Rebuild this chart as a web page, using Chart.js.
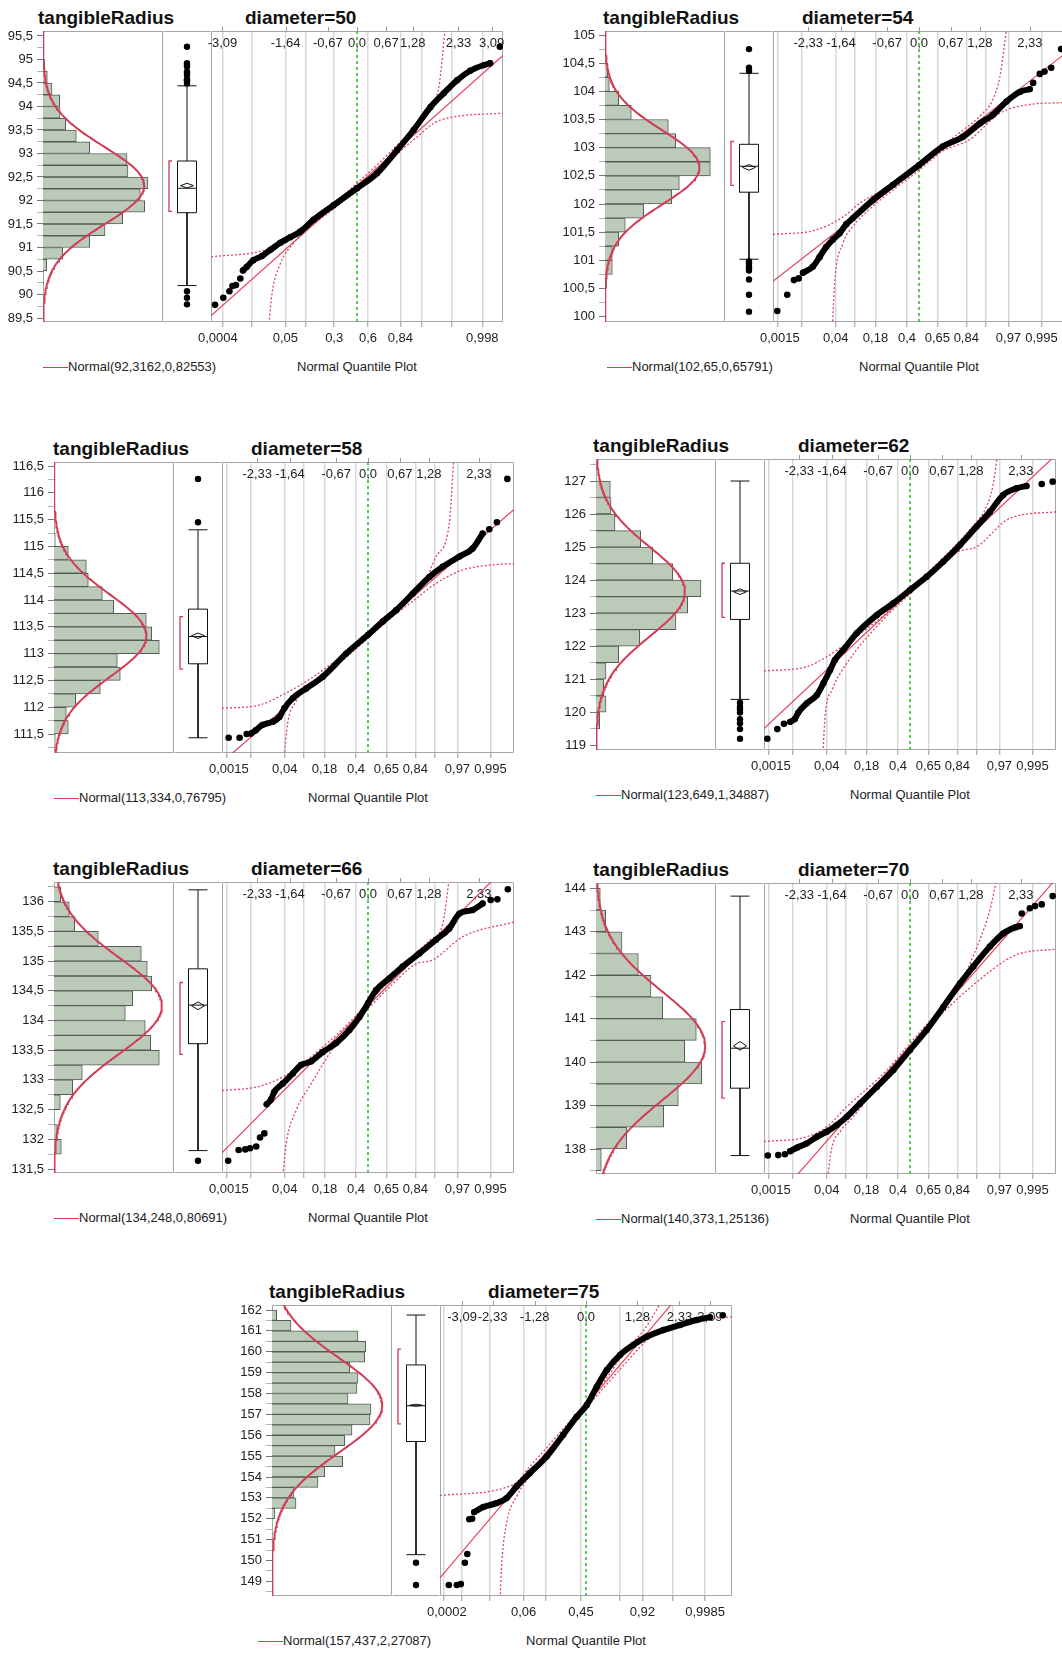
<!DOCTYPE html>
<html>
<head>
<meta charset="utf-8">
<script src="https://cdn.jsdelivr.net/npm/chart.js@4.4.1/dist/chart.umd.min.js"></script>
<style>
  html, body { margin: 0; padding: 0; background: #fff; overflow: hidden; width: 1062px; height: 1654px; }
  body { position: relative; font-family: "Liberation Sans", Arial, Helvetica, sans-serif; color: #111; }
  canvas { position: absolute; }
  .t { position: absolute; font-weight: bold; font-size: 19px; line-height: 20px; white-space: nowrap; }
  .lg { position: absolute; font-size: 13px; line-height: 16px; white-space: nowrap; color: #222; }
  .lg i { display: inline-block; width: 25px; height: 1.5px; background: #d23a55; vertical-align: middle; }
</style>
</head>
<body>
<script>
// one panel per diameter: histogram + box plot + normal quantile plot
const diameters = [50, 54, 58, 62, 66, 70, 75];
const fitMean = [92.3162, 102.65, 113.334, 123.649, 134.248, 140.373, 157.437];
const fitSd = [0.82553, 0.65791, 0.76795, 1.34887, 0.80691, 1.25136, 2.27087];

// shared y range of each panel
const yMin = [89.415, 99.906, 111.146, 118.858, 131.433, 137.425, 148.3];
const yMax = [95.606, 105.071, 116.575, 127.666, 136.332, 144.122, 162.24];
const yMajor = [0.5, 0.5, 0.5, 1, 0.5, 1, 1];
const yMinor = [0.25, 0.25, 0.25, 0.5, 0.25, 0.5, 0.5];

// histogram: bins read top to bottom
const binWidth = [0.25, 0.25, 0.25, 0.5, 0.25, 0.5, 0.5];
const binTop = [95, 104.5, 115.25, 127, 136.25, 144, 162];
const histCounts = [
  [1.7, 4.3, 9, 16.7, 17, 22.7, 33.3, 46.7, 84, 85, 105, 97.3, 101.7, 79.7, 62, 46.7, 19.7, 3.7, 0.7],
  [2.7, 4.3, 13.7, 26.3, 63.3, 70.7, 105.3, 105.3, 74.3, 66.7, 38.7, 20.3, 13.7, 7.3, 7.3, 1.7, 0.7, 0.7],
  [1.3, 14.3, 32.3, 34.3, 48.3, 59.7, 92.3, 97.7, 105.3, 63.3, 66.3, 46.3, 21.7, 12.3, 14.3, 1.3],
  [14.3, 15, 19, 44.7, 56.7, 76.7, 105, 91.7, 80, 43.7, 22.7, 10, 7.7, 10, 3.7],
  [6.7, 15.3, 20.7, 44.3, 87.3, 93.3, 97.7, 78.7, 71.3, 91.3, 96.7, 105.3, 28.3, 18.7, 6.3, 0, 3.3, 7.3],
  [4.3, 9.7, 26, 42.3, 55, 66.7, 100.3, 88.7, 105.7, 82.3, 67.7, 30.7, 5.3],
  [4.7, 19, 86, 93.7, 92.7, 77.7, 86, 85, 76, 99, 98, 80, 72.7, 63, 70.7, 52.7, 46, 22, 24, 3, 0, 0, 0, 0.7, 0.7, 0, 1]
];

// box plots
const boxQ1 = [91.74, 102.21, 112.81, 122.81, 133.61, 139.40, 155.70];
const boxMedian = [92.26, 102.67, 113.32, 123.67, 134.26, 140.32, 157.41];
const boxQ3 = [92.84, 103.06, 113.83, 124.51, 134.87, 141.21, 159.37];
const whiskerLo = [90.19, 101.02, 111.43, 120.39, 131.81, 137.85, 150.28];
const whiskerHi = [94.44, 104.32, 115.31, 127.0, 136.2, 143.82, 161.76];
const shortHalfLo = [91.77, 102.33, 112.71, 122.87, 133.43, 139.17, 156.55];
const shortHalfHi = [92.84, 103.11, 113.69, 124.51, 134.64, 140.93, 160.13];
const meanCI = [0.05, 0.05, 0.05, 0.085, 0.065, 0.1, 0.05];
const outliers = [
  [95.27, 94.92, 94.88, 94.85, 94.74, 94.71, 94.67, 94.58, 94.56, 94.55, 94.49, 90.07, 89.93, 89.79],
  [104.75, 104.42, 104.36, 100.98, 100.95, 100.89, 100.86, 100.82, 100.66, 100.39, 100.09],
  [116.26, 115.45],
  [120.29, 120.17, 120.09, 119.99, 119.79, 119.67, 119.49, 119.2],
  [131.64],
  [],
  [149.89, 148.83]
];

// normal quantile plots: [normal quantile, value]
const qqBody = [
  [[-2.62,90.51],[-2.53,90.59],[-2.38,90.73],[-2.18,90.82],[-1.99,90.95],[-1.76,91.1],[-1.53,91.22],[-1.30,91.34],[-1.0,91.59],[-0.54,91.9],[0,92.26],[0.46,92.58],[0.92,93.07],[1.30,93.5],[1.69,93.99],[1.99,94.28],[2.30,94.56],[2.60,94.76],[2.91,94.88],[3.06,94.92]],
  [[-2.44,100.78],[-2.23,100.89],[-2.09,101.06],[-1.95,101.24],[-1.81,101.37],[-1.67,101.48],[-1.53,101.64],[-1.39,101.75],[-0.97,102.07],[-0.55,102.34],[0,102.69],[0.50,103.02],[0.92,103.19],[1.28,103.43],[1.55,103.58],[1.84,103.82],[2.12,103.99],[2.33,104.04]],
  [[-2.46,111.51],[-2.36,111.57],[-2.22,111.67],[-2.0,111.73],[-1.86,111.82],[-1.76,111.98],[-1.58,112.17],[-1.30,112.35],[-0.95,112.57],[-0.46,113.0],[0,113.35],[0.31,113.6],[0.59,113.81],[0.94,114.12],[1.29,114.43],[1.57,114.62],[1.92,114.81],[2.20,114.96],[2.41,115.24]],
  [[-2.52,119.71],[-2.42,119.8],[-2.35,119.99],[-2.17,120.27],[-1.96,120.52],[-1.82,120.88],[-1.68,121.28],[-1.58,121.58],[-1.40,121.89],[-1.12,122.39],[-0.70,122.94],[-0.35,123.30],[0,123.70],[0.35,124.1],[0.70,124.56],[1.05,125.06],[1.40,125.62],[1.68,126.07],[1.96,126.58],[2.24,126.78],[2.45,126.85]],
  [[-2.13,132.59],[-2.04,132.67],[-1.97,132.8],[-1.79,132.94],[-1.58,133.11],[-1.41,133.25],[-1.20,133.31],[-0.95,133.47],[-0.67,133.62],[-0.39,133.84],[-0.18,134.06],[0,134.29],[0.17,134.51],[0.45,134.71],[0.73,134.91],[1.08,135.13],[1.43,135.36],[1.71,135.55],[1.92,135.8],[2.20,135.86],[2.41,135.97]],
  [[-2.52,137.95],[-2.38,138.03],[-2.17,138.13],[-1.96,138.28],[-1.75,138.4],[-1.54,138.55],[-1.33,138.74],[-1.05,139.05],[-0.70,139.43],[-0.35,139.82],[0,140.28],[0.35,140.74],[0.70,141.27],[1.05,141.81],[1.33,142.2],[1.68,142.66],[1.96,142.96],[2.21,143.1],[2.31,143.13]],
  [[-2.79,152.32],[-2.56,152.56],[-2.23,152.75],[-1.98,152.99],[-1.73,153.55],[-1.40,154.19],[-0.98,154.98],[-0.57,156.02],[-0.23,156.89],[0.02,157.45],[0.27,158.33],[0.52,159.13],[0.85,159.85],[1.18,160.33],[1.51,160.72],[1.93,161.04],[2.34,161.28],[2.76,161.52],[3.09,161.65]]
];
const qqTail = [
  [[-3.26,89.78],[-3.07,89.93],[-2.93,90.07],[-2.86,90.18],[-2.78,90.2],[-2.68,90.34],[3.28,95.27]],
  [[-2.98,100.10],[-2.77,100.39],[-2.63,100.65],[-2.53,100.68],[2.40,104.15],[2.54,104.31],[2.64,104.35],[2.78,104.42],[2.99,104.75]],
  [[-2.93,111.43],[-2.70,111.43],[-2.55,111.5],[2.55,115.32],[2.71,115.45],[2.93,116.26]],
  [[-3.0,119.2],[-2.79,119.49],[-2.65,119.65],[2.77,126.91],[3.0,126.98]],
  [[-2.94,131.64],[-2.72,131.82],[-2.58,131.83],[-2.48,131.85],[-2.35,131.88],[-2.27,132.03],[-2.18,132.1],[2.58,136.03],[2.72,136.04],[2.94,136.21]],
  [[-2.99,137.85],[-2.77,137.86],[-2.63,137.88],[2.35,143.42],[2.52,143.54],[2.63,143.59],[2.77,143.63],[3.0,143.82]],
  [[-3.42,148.83],[-3.22,148.83],[-3.12,148.87],[-3.02,149.89],[-2.96,150.31],[-2.91,151.98],[-2.84,152.0],[3.41,161.75]]
];
const bandUpper = [
  [[-3.35,90.80],[-2.07,90.96],[-1.61,91.2],[-1.15,91.51],[-0.5,91.95],[0,92.37],[0.5,92.79],[1.0,93.25],[1.4,93.62],[1.69,93.99],[1.88,94.42],[2.03,95.7]],
  [[-3.07,101.46],[-2.16,101.54],[-1.6,101.77],[-1.25,102.01],[-0.5,102.38],[0,102.70],[0.5,103.04],[1.0,103.36],[1.28,103.56],[1.55,103.85],[1.70,104.26],[1.84,105.1]],
  [[-3.07,111.98],[-2.29,112.04],[-1.80,112.23],[-1.30,112.48],[-0.5,112.99],[0,113.38],[0.5,113.76],[1.0,114.17],[1.25,114.45],[1.43,114.81],[1.71,115.43],[1.80,116.6]],
  [[-3.07,121.25],[-2.17,121.38],[-1.75,121.68],[-1.33,122.09],[-0.5,123.0],[0,123.72],[0.5,124.4],[1.0,125.12],[1.3,125.6],[1.6,126.2],[1.75,126.9],[1.83,127.7]],
  [[-3.07,132.82],[-2.29,132.89],[-1.79,133.05],[-1.37,133.28],[-0.5,133.88],[0,134.3],[0.5,134.7],[1.0,135.13],[1.3,135.35],[1.57,135.62],[1.71,136.4]],
  [[-3.07,138.17],[-2.17,138.28],[-1.75,138.51],[-1.33,138.97],[-0.5,139.8],[0,140.43],[0.5,141.05],[1.0,141.7],[1.47,142.82],[1.68,143.5],[1.82,144.2]],
  [[-3.64,153.12],[-1.81,153.63],[-1.4,154.5],[-0.5,156.45],[0,157.55],[0.5,158.7],[1.0,160.1],[1.43,161.0],[1.85,162.3]]
];
const bandLower = [
  [[-2.03,89.3],[-1.95,90.03],[-1.76,90.66],[-1.46,91.09],[-1.07,91.44],[-0.5,91.85],[0,92.26],[0.5,92.67],[1.0,93.06],[1.30,93.29],[1.91,93.71],[3.37,93.86]],
  [[-1.82,99.85],[-1.77,100.65],[-1.6,101.3],[-1.39,101.6],[-1.0,101.94],[-0.5,102.28],[0,102.60],[0.5,102.94],[1.06,103.14],[1.70,103.61],[2.26,103.76],[3.07,103.8]],
  [[-1.76,111.1],[-1.69,111.7],[-1.52,112.1],[-1.24,112.38],[-0.5,112.9],[0,113.29],[0.5,113.68],[1.0,114.02],[1.43,114.31],[1.99,114.56],[2.55,114.65],[3.07,114.68]],
  [[-1.83,118.8],[-1.78,119.97],[-1.64,120.67],[-1.33,121.48],[-0.5,122.9],[0,123.58],[0.5,124.25],[1.0,124.85],[1.40,125.01],[2.1,125.87],[3.08,126.07]],
  [[-1.79,131.4],[-1.72,131.93],[-1.51,132.49],[-1.23,132.89],[-0.5,133.8],[0,134.2],[0.5,134.6],[1.0,134.95],[1.36,135.02],[1.99,135.41],[3.07,135.66]],
  [[-1.73,137.35],[-1.65,138.0],[-1.47,138.4],[-1.19,138.75],[-0.5,139.68],[0,140.3],[0.5,140.92],[1.26,141.71],[2.24,142.47],[3.08,142.6]],
  [[-2.14,148.2],[-2.10,149.88],[-1.98,151.79],[-1.73,153.07],[-1.2,154.5],[-0.5,156.2],[0,157.3],[0.5,158.4],[1.1,159.7],[1.6,160.7],[2.2,161.3],[3.64,161.68]]
];

// quantile axis: range, probability grid, labels
const qqZMax = [3.353, 3.07, 3.07, 3.07, 3.07, 3.07, 3.64];
const gridMid = [0.0015, 0.007, 0.04, 0.09, 0.18, 0.4, 0.65, 0.84, 0.92, 0.97, 0.995];
const gridProbs = [
  [0.001, 0.008, 0.05, 0.12, 0.3, 0.6, 0.84, 0.93, 0.985, 0.998],
  gridMid, gridMid, gridMid, gridMid, gridMid,
  [0.0002, 0.001, 0.008, 0.06, 0.16, 0.45, 0.8, 0.92, 0.985, 0.9985]
];
const probMid = ['0,0015', '0,04', '0,18', '0,4', '0,65', '0,84', '0,97', '0,995'];
const probLabels = [
  ['0,0004', '0,05', '0,3', '0,6', '0,84', '0,998'],
  probMid, probMid, probMid, probMid, probMid,
  ['0,0002', '0,06', '0,45', '0,92', '0,9985']
];
const quantMid = ['-2,33', '-1,64', '-0,67', '0,0', '0,67', '1,28', '2,33'];
const quantLabels = [
  ['-3,09', '-1,64', '-0,67', '0,0', '0,67', '1,28', '2,33', '3,09'],
  quantMid, quantMid, quantMid, quantMid, quantMid,
  ['-3,09', '-2,33', '-1,28', '0,0', '1,28', '2,33', '3,09']
];

// page layout: [hist left, frame top, title dx, diameter dx, legend dx]
const panelPos = [
  [43, 31, -5, 202, 0],
  [605, 31, -2, 197, 2],
  [54, 462, -1, 197, 0],
  [596, 459, -3, 202, 0],
  [54, 882, -1, 197, 0],
  [596, 883, -3, 202, 0],
  [272, 1305, -3, 216, -14]
];

const H = 291, HIST_W = 120, BOX_W = 48, QQ_W = 292, PAD = 10, SIDE = 20;
const RED = '#d23a55';
const FONT = "'Liberation Sans', Arial, Helvetica, sans-serif";

Chart.defaults.font.family = FONT;
Chart.defaults.font.size = 13;
Chart.defaults.color = '#222';

const comma = (v) => String(v).replace('.', ',');
const uncomma = (s) => parseFloat(s.replace(',', '.'));

// inverse normal cdf (Acklam), used for the probability axis
function probit(p) {
  const a = [-39.69683028665376, 220.9460984245205, -275.9285104469687, 138.3577518672690, -30.66479806614716, 2.506628277459239];
  const b = [-54.47609879822406, 161.5858368580409, -155.6989798598866, 66.80131188771972, -13.28068155288572];
  const c = [-0.007784894002430293, -0.3223964580411365, -2.400758277161838, -2.549732539343734, 4.374664141464968, 2.938163982698783];
  const d = [0.007784695709041462, 0.3224671290700398, 2.445134137142996, 3.754408661907416];
  const tail = (q) => (((((c[0]*q + c[1])*q + c[2])*q + c[3])*q + c[4])*q + c[5]) / ((((d[0]*q + d[1])*q + d[2])*q + d[3])*q + 1);
  if (p < 0.02425) return tail(Math.sqrt(-2 * Math.log(p)));
  if (p > 1 - 0.02425) return -tail(Math.sqrt(-2 * Math.log(1 - p)));
  const q = p - 0.5, r = q * q;
  return (((((a[0]*r + a[1])*r + a[2])*r + a[3])*r + a[4])*r + a[5]) * q / (((((b[0]*r + b[1])*r + b[2])*r + b[3])*r + b[4])*r + 1);
}

function normPdf(v, m, s) {
  const u = (v - m) / s;
  return Math.exp(-0.5 * u * u) / (s * Math.sqrt(2 * Math.PI));
}

// frame round the plot area; sides = 'trbl' letters
function framePlugin(sides) {
  return {
    id: 'frame',
    beforeDatasetsDraw(chart) {
      const { ctx, chartArea: a } = chart;
      const l = Math.round(a.left) + 0.5, r = Math.round(a.right) - 0.5;
      const t = Math.round(a.top) + 0.5, b = Math.round(a.bottom) - 0.5;
      ctx.save();
      ctx.strokeStyle = '#a6a6a6';
      ctx.lineWidth = 1;
      ctx.beginPath();
      if (sides.includes('t')) { ctx.moveTo(l, t); ctx.lineTo(r, t); }
      if (sides.includes('b')) { ctx.moveTo(l, b); ctx.lineTo(r, b); }
      if (sides.includes('l')) { ctx.moveTo(l, t); ctx.lineTo(l, b); }
      if (sides.includes('r')) { ctx.moveTo(r, t); ctx.lineTo(r, b); }
      ctx.stroke();
      ctx.restore();
    }
  };
}

// labels of the quantile plot: quantiles on top (inside), probabilities below
function qqTextPlugin(top, bottom) {
  return {
    id: 'qqText',
    beforeDatasetsDraw(chart) {
      const { ctx, chartArea: a, scales: { x } } = chart;
      ctx.save();
      ctx.font = '13px ' + FONT;
      ctx.fillStyle = '#222';
      ctx.textAlign = 'center';
      ctx.textBaseline = 'middle';
      ctx.strokeStyle = '#999';
      ctx.lineWidth = 1;
      top.forEach((s) => {
        const px = x.getPixelForValue(uncomma(s));
        ctx.fillText(s, px, a.top + 12);
        ctx.beginPath();
        ctx.moveTo(Math.round(px) + 0.5, a.top);
        ctx.lineTo(Math.round(px) + 0.5, a.top - 4);
        ctx.stroke();
      });
      bottom.forEach((s) => {
        const w = ctx.measureText(s).width;
        let px = x.getPixelForValue(probit(uncomma(s)));
        px = Math.max(px, a.left - 13 + w / 2);
        px = Math.min(px, a.right + 13 - w / 2);
        ctx.fillText(s, px, a.bottom + 16);
      });
      ctx.restore();
    }
  };
}

function addCanvas(left, top, w, h) {
  const cv = document.createElement('canvas');
  cv.width = w;
  cv.height = h;
  cv.style.left = left + 'px';
  cv.style.top = top + 'px';
  document.body.appendChild(cv);
  return cv;
}

function addText(cls, left, top, html) {
  const el = document.createElement('div');
  el.className = cls;
  el.style.left = left + 'px';
  el.style.top = top + 'px';
  el.innerHTML = html;
  document.body.appendChild(el);
}

const baseOptions = {
  responsive: false,
  animation: false,
  devicePixelRatio: 1,
  events: [],
  plugins: { legend: { display: false }, tooltip: { enabled: false }, colors: { enabled: false } },
};

function lineSet(pts, color, width, dash) {
  return {
    data: pts.map(([x, y]) => ({ x, y })),
    showLine: true, borderColor: color, backgroundColor: color,
    borderWidth: width, borderDash: dash || [], pointRadius: 0, tension: 0, fill: false,
  };
}

diameters.forEach((diam, i) => {
  const [L, T, titleDx, diamDx, legDx] = panelPos[i];
  const m = fitMean[i], s = fitSd[i];
  const lo = yMin[i], hi = yMax[i];

  // ---- titles and legend
  addText('t', L + titleDx, T - 23, 'tangibleRadius');
  addText('t', L + diamDx, T - 23, 'diameter=' + diam);
  addText('lg', L + legDx, T + 328, '<i></i>Normal(' + comma(m) + ',' + comma(s) + ')');
  const qqCenter = L + HIST_W + BOX_W + QQ_W / 2;
  const lbl = document.createElement('div');
  lbl.className = 'lg';
  lbl.textContent = 'Normal Quantile Plot';
  lbl.style.top = (T + 328) + 'px';
  lbl.style.left = '0px';
  document.body.appendChild(lbl);
  lbl.style.left = (qqCenter - lbl.offsetWidth / 2) + 'px';

  // ---- histogram with fitted normal curve
  const bw = binWidth[i];
  const bins = histCounts[i].map((c, k) => ({ x: c, y: binTop[i] - (k + 0.5) * bw }));
  const total = histCounts[i].reduce((acc, v) => acc + v, 0);
  const curve = [];
  for (let k = 0; k <= 240; k++) {
    const v = lo + (hi - lo) * k / 240;
    curve.push({ x: total * bw * normPdf(v, m, s), y: v });
  }
  const major = yMajor[i];
  new Chart(addCanvas(L - 46, T - PAD, 46 + HIST_W, H + 2 * PAD), {
    type: 'bar',
    data: {
      datasets: [
        { type: 'bar', data: bins, backgroundColor: '#bccbb9', borderColor: '#555b55', borderWidth: 1,
          barPercentage: 1, categoryPercentage: 1, order: 2 },
        { type: 'line', data: curve, borderColor: RED, borderWidth: 2, pointRadius: 0, tension: 0, order: 1 },
      ],
    },
    options: {
      ...baseOptions,
      indexAxis: 'y',
      layout: { autoPadding: false, padding: { top: PAD, bottom: PAD, left: 0, right: 0 } },
      scales: {
        x: { type: 'linear', min: 0, max: HIST_W, display: false },
        y: {
          type: 'linear', min: lo, max: hi, offset: false, position: 'left',
          border: { display: false },
          grid: {
            offset: false, drawOnChartArea: false, tickLength: 6,
            tickColor: (ctx) => (ctx.tick && Math.abs(ctx.tick.value / major - Math.round(ctx.tick.value / major)) < 1e-6 ? '#777' : '#b3b3b3'),
          },
          ticks: {
            stepSize: yMinor[i], includeBounds: false, autoSkip: false, padding: 4, color: '#222',
            callback: (v) => (Math.abs(v / major - Math.round(v / major)) < 1e-6 ? comma(v) : ''),
          },
          afterFit: (sc) => { sc.width = 46; sc.paddingTop = 0; sc.paddingBottom = 0; },
        },
      },
    },
    plugins: [framePlugin('trbl')],
  });

  // ---- box plot
  const c = BOX_W / 2, hw = 9.5, dw = 6.5;
  const boxSets = [
    { data: outliers[i].map((v) => ({ x: c, y: v })), showLine: false, pointRadius: 3.2,
      pointBackgroundColor: '#000', backgroundColor: '#000', pointBorderWidth: 0 },
    lineSet([[c - hw, boxQ1[i]], [c + hw, boxQ1[i]], [c + hw, boxQ3[i]], [c - hw, boxQ3[i]], [c - hw, boxQ1[i]]], '#111', 1),
    lineSet([[c - hw, boxMedian[i]], [c + hw, boxMedian[i]]], '#111', 1),
    lineSet([[c, boxQ3[i]], [c, whiskerHi[i]]], '#111', 1),
    lineSet([[c - hw, whiskerHi[i]], [c + hw, whiskerHi[i]]], '#111', 1),
    lineSet([[c, boxQ1[i]], [c, whiskerLo[i]]], '#111', 1),
    lineSet([[c - hw, whiskerLo[i]], [c + hw, whiskerLo[i]]], '#111', 1),
    lineSet([[c - dw, m], [c, m + meanCI[i]], [c + dw, m], [c, m - meanCI[i]], [c - dw, m]], '#111', 1),
    lineSet([[c - 15, shortHalfHi[i]], [c - 18, shortHalfHi[i]], [c - 18, shortHalfLo[i]], [c - 15, shortHalfLo[i]]], RED, 1.3),
  ];
  new Chart(addCanvas(L + HIST_W, T - PAD, BOX_W, H + 2 * PAD), {
    type: 'scatter',
    data: { datasets: boxSets },
    options: {
      ...baseOptions,
      layout: { autoPadding: false, padding: { top: PAD, bottom: PAD, left: 0, right: 0 } },
      scales: {
        x: { type: 'linear', min: 0, max: BOX_W, display: false },
        y: { type: 'linear', min: lo, max: hi, display: false },
      },
    },
    plugins: [framePlugin('tb')],
  });

  // ---- normal quantile plot
  const zr = qqZMax[i];
  const qqSets = [
    { data: qqTail[i].map(([x, y]) => ({ x, y })), showLine: false, pointRadius: 3.3,
      pointBackgroundColor: '#000', backgroundColor: '#000', pointBorderWidth: 0 },
    { data: qqBody[i].map(([x, y]) => ({ x, y })), showLine: true, borderColor: '#000', backgroundColor: '#000',
      borderWidth: 6, borderCapStyle: 'round', borderJoinStyle: 'round', cubicInterpolationMode: 'monotone',
      pointRadius: 3.2, pointBackgroundColor: '#000', pointBorderWidth: 0 },
    lineSet([[-zr, m - s * zr], [zr, m + s * zr]], '#e2435d', 1.2),
    { ...lineSet(bandUpper[i], '#e2435d', 1.3, [2, 2]), cubicInterpolationMode: 'monotone' },
    { ...lineSet(bandLower[i], '#e2435d', 1.3, [2, 2]), cubicInterpolationMode: 'monotone' },
    lineSet([[0, lo], [0, hi]], '#33c033', 1.6, [3, 3]),
  ];
  const probs = gridProbs[i];
  new Chart(addCanvas(L + HIST_W + BOX_W - SIDE, T - PAD, QQ_W + 2 * SIDE, H + PAD + 30), {
    type: 'scatter',
    data: { datasets: qqSets },
    options: {
      ...baseOptions,
      layout: { autoPadding: false, padding: { top: PAD, bottom: 0, left: SIDE, right: SIDE } },
      scales: {
        x: {
          type: 'linear', min: -zr, max: zr, position: 'bottom',
          border: { display: false },
          grid: { color: '#d8d8d8', lineWidth: 1.5, drawTicks: true, tickLength: 5, tickColor: '#999', tickWidth: 1 },
          ticks: { display: false },
          afterBuildTicks: (sc) => { sc.ticks = probs.map((p) => ({ value: probit(p) })); },
          afterFit: (sc) => { sc.height = 30; sc.paddingLeft = 0; sc.paddingRight = 0; },
        },
        y: { type: 'linear', min: lo, max: hi, display: false },
      },
    },
    plugins: [framePlugin('trbl'), qqTextPlugin(quantLabels[i], probLabels[i])],
  });
});
</script>
</body>
</html>
